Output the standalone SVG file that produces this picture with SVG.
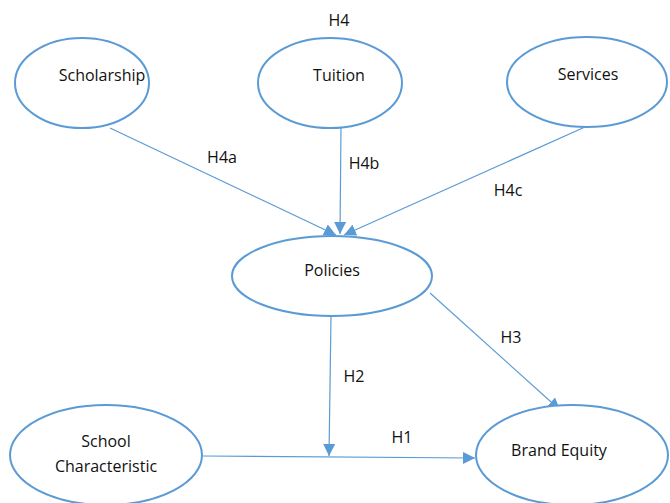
<svg xmlns="http://www.w3.org/2000/svg" width="670" height="503" viewBox="0 0 670 503">
  <style>
    .node { fill: #ffffff; stroke: #5b9bd5; stroke-width: 2; }
    .edge { stroke: #5b9bd5; stroke-width: 1.2; fill: none; }
    text { font-family: "Open Sans", "Liberation Sans", sans-serif; font-size: 16px; fill: #111111; text-anchor: middle; }
  </style>
  <defs>
    <marker id="arrow" viewBox="0 0 12 12" refX="12" refY="6" markerWidth="12" markerHeight="12" markerUnits="userSpaceOnUse" orient="auto">
      <path d="M0,0 L12,6 L0,12 z" fill="#5b9bd5"/>
    </marker>
  </defs>
  <rect width="670" height="503" fill="#ffffff"/>

  <g id="connectors">
    <line class="edge" x1="110" y1="128" x2="336" y2="235" marker-end="url(#arrow)"/>
    <line class="edge" x1="341" y1="128" x2="340" y2="234" marker-end="url(#arrow)"/>
    <line class="edge" x1="585" y1="127" x2="344" y2="235" marker-end="url(#arrow)"/>
    <line class="edge" x1="331" y1="316" x2="329" y2="456" marker-end="url(#arrow)"/>
    <line class="edge" x1="430" y1="293" x2="560" y2="410" marker-end="url(#arrow)"/>
    <line class="edge" x1="203" y1="456" x2="475" y2="458" marker-end="url(#arrow)"/>
    <text x="222" y="163">H4a</text>
    <text x="364" y="169">H4b</text>
    <text x="508" y="196">H4c</text>
    <text x="354" y="382">H2</text>
    <text x="511" y="343">H3</text>
    <text x="402" y="443">H1</text>
  </g>

  <text x="339" y="26">H4</text>

  <g id="scholarship">
    <ellipse class="node" cx="82" cy="83" rx="67" ry="45"/>
    <text x="102" y="81">Scholarship</text>
  </g>
  <g id="tuition">
    <ellipse class="node" cx="330" cy="83" rx="72" ry="45"/>
    <text x="339" y="81">Tuition</text>
  </g>
  <g id="services">
    <ellipse class="node" cx="587" cy="82" rx="80" ry="45"/>
    <text x="588" y="80">Services</text>
  </g>
  <g id="policies">
    <ellipse class="node" cx="332" cy="276" rx="100" ry="40"/>
    <text x="332" y="276">Policies</text>
  </g>
  <g id="school-characteristic">
    <ellipse class="node" cx="106" cy="455" rx="96" ry="50"/>
    <text x="106" y="447">School</text>
    <text x="106" y="472">Characteristic</text>
  </g>
  <g id="brand-equity">
    <ellipse class="node" cx="572" cy="455" rx="96" ry="50"/>
    <text x="559" y="456">Brand Equity</text>
  </g>
</svg>
